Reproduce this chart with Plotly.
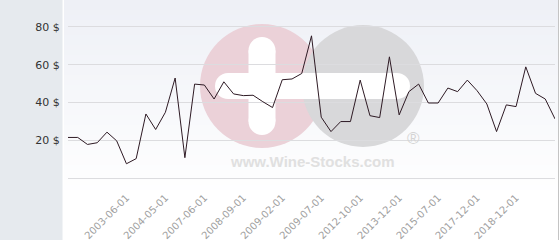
import plotly.graph_objects as go

# ---- data ----
prices = [21.6, 21.6, 17.9, 18.8, 24.4, 19.8, 7.7, 10.4, 34.0, 25.8,
          34.9, 53.0, 10.9, 49.8, 49.3, 41.9, 51.0, 44.6, 43.7, 43.9,
          40.5, 37.4, 52.1, 52.5, 55.4, 75.3, 32.3, 24.7, 30.0, 30.0,
          51.9, 33.1, 32.1, 64.2, 33.5, 45.8, 49.8, 39.8, 39.8, 47.7,
          45.8, 51.9, 46.3, 39.3, 24.7, 38.8, 37.9, 58.9, 44.9, 41.9,
          31.4]
point_index = list(range(len(prices)))
tick_positions = [6, 10, 14, 18, 22, 26, 30, 34, 38, 42, 46]
tick_labels = ["2003-06-01", "2004-05-01", "2007-06-01", "2008-09-01",
               "2009-02-01", "2009-07-01", "2012-10-01", "2013-12-01",
               "2015-07-01", "2017-12-01", "2018-12-01"]
y_ticks = [0, 20, 40, 60, 80]
y_labels = ["", "20 $", "40 $", "60 $", "80 $"]

# ---- layout geometry (pixels) ----
W, H = 560, 240
L, R, T, B = 68, 5, 8, 56
PW = W - L - R
PH = H - T - B


def px(x):
    return (x - L) / PW


def py(y):
    return (H - B - y) / PH


shapes = []
# left gray panel
shapes.append(dict(type="rect", xref="paper", yref="paper", layer="below",
                   x0=px(0), x1=px(62.5), y0=py(0), y1=py(240),
                   fillcolor="#e6eaee", line=dict(width=0)))
# gradient background
n = 40
top = (238, 240, 246)
for i in range(n):
    y0 = 200 * i / n
    y1 = 200 * (i + 1) / n + 0.6
    t = i / (n - 1)
    c = tuple(int(round(top[k] + (255 - top[k]) * t)) for k in range(3))
    shapes.append(dict(type="rect", xref="paper", yref="paper", layer="below",
                       x0=px(64), x1=px(558), y0=py(y0), y1=py(min(y1, 240)),
                       fillcolor="rgb(%d,%d,%d)" % c, line=dict(width=0)))
# right border
shapes.append(dict(type="line", xref="paper", yref="paper", layer="below",
                   x0=px(558.5), x1=px(558.5), y0=py(0), y1=py(240),
                   line=dict(color="#c4c4c4", width=1)))


def circle(cx, cy, r, color):
    return dict(type="circle", xref="paper", yref="paper", layer="below",
                x0=px(cx - r), x1=px(cx + r), y0=py(cy + r), y1=py(cy - r),
                fillcolor=color, line=dict(width=0))


def rect(x0, x1, y0, y1, color):
    return dict(type="rect", xref="paper", yref="paper", layer="below",
                x0=px(x0), x1=px(x1), y0=py(y1), y1=py(y0),
                fillcolor=color, line=dict(width=0))


# watermark logo
shapes.append(circle(262, 86, 62, "#ebd1d8"))
shapes.append(circle(363, 86, 61, "#d8d8da"))
wh = "#ffffff"
# vertical bar of plus
shapes.append(rect(248.5, 275.5, 50.5, 121.5, wh))
shapes.append(circle(262, 50.5, 13.5, wh))
shapes.append(circle(262, 121.5, 13.5, wh))
# horizontal bar (plus arm + minus)
shapes.append(rect(228, 397, 73, 99, wh))
shapes.append(circle(228, 86, 13, wh))
shapes.append(circle(397, 86, 13, wh))

annotations = [
    dict(xref="paper", yref="paper", x=px(312), y=py(161),
         text="<b>www.Wine-Stocks.com</b>",
         showarrow=False, font=dict(family="Liberation Sans", size=15, color="#e0e0e0"),
         xanchor="center", yanchor="middle"),
    dict(xref="paper", yref="paper", x=px(413), y=py(138), text="®",
         showarrow=False, font=dict(family="Liberation Sans", size=17, color="#d4d4d4"),
         xanchor="center", yanchor="middle"),
]

fig = go.Figure()
fig.add_trace(go.Scatter(x=point_index, y=prices, mode="lines",
                         line=dict(color="#2e1a24", width=1),
                         hoverinfo="skip", showlegend=False))

fig.update_layout(
    width=W, height=H,
    margin=dict(l=L, r=R, t=T, b=B, pad=0, autoexpand=False),
    paper_bgcolor="rgba(0,0,0,0)",
    plot_bgcolor="rgba(0,0,0,0)",
    shapes=shapes,
    annotations=annotations,
    xaxis=dict(range=[0, len(prices) - 1], tickmode="array",
               tickvals=tick_positions, ticktext=tick_labels, automargin=False,
               tickangle=-45, showgrid=False, zeroline=False, showline=False,
               ticks="outside", ticklen=3, tickcolor="rgba(0,0,0,0)",
               tickfont=dict(family="DejaVu Sans", size=10, color="#a0a0a0")),
    yaxis=dict(range=[-3, 90], tickmode="array", tickvals=y_ticks, ticktext=y_labels,
               showgrid=True, gridcolor="#dcdcdf", gridwidth=1, automargin=False,
               zeroline=False, showline=False,
               ticks="outside", ticklen=5, tickcolor="rgba(0,0,0,0)",
               tickfont=dict(family="DejaVu Sans", size=11, color="#333333")),
    font=dict(family="DejaVu Sans"),
)

fig.write_html("out.html", config={"displayModeBar": False})
